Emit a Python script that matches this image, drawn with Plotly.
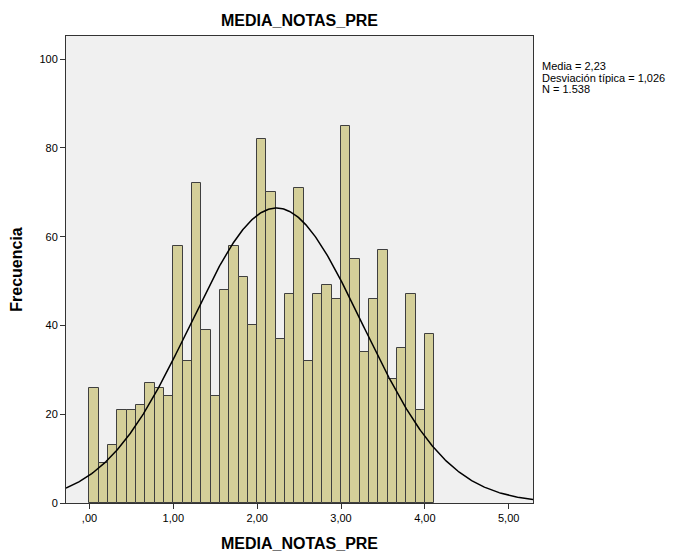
import numpy as np
import plotly.graph_objects as go

# Histogram data (bin width 1/9 starting at 0)
bin_start = 0.0
bin_width = 1.0 / 9.0
counts = [26, 9, 13, 21, 21, 22, 27, 26, 24, 58, 32, 72, 39, 24, 48, 58, 51, 40,
          82, 70, 37, 47, 71, 32, 47, 49, 46, 85, 55, 34, 46, 57, 28, 35, 47, 21, 38]
mean_val = 2.23
sd_val = 1.026
n_val = 1538
stats_lines = ["Media = 2,23", "Desviación típica = 1,026", "N = 1.538"]

x_tick_vals = [0, 1, 2, 3, 4, 5]
x_tick_text = [",00", "1,00", "2,00", "3,00", "4,00", "5,00"]
y_tick_vals = [0, 20, 40, 60, 80, 100]

OFF = 8  # page body margin
W, H = 681 - OFF, 553 - OFF
L, R, T, B = 66 - OFF, 533 - OFF, 36 - OFF, 503 - OFF

centers = [bin_start + (i + 0.5) * bin_width for i in range(len(counts))]

xr = [-0.28, 5.29]
xs = np.linspace(xr[0], xr[1], 400)
ys = n_val * bin_width / (sd_val * np.sqrt(2 * np.pi)) * np.exp(-0.5 * ((xs - mean_val) / sd_val) ** 2)

fig = go.Figure()
fig.add_trace(go.Bar(
    x=centers, y=counts, width=bin_width,
    marker=dict(color="#D4CF99", line=dict(color="#3f3f3f", width=1)),
    hoverinfo="x+y", showlegend=False,
))
fig.add_trace(go.Scatter(
    x=xs, y=ys, mode="lines", line=dict(color="black", width=1.5),
    showlegend=False, hoverinfo="skip",
))

font = "Liberation Sans, Arial, sans-serif"

def ypx(py):
    # page pixel y -> paper coordinate
    return (B - (py - OFF)) / (B - T)

def xpx(px):
    return ((px - OFF) - L) / (R - L)

annots = []
for i, line in enumerate(stats_lines):
    annots.append(dict(
        text=line, xref="paper", yref="paper", x=xpx(540), y=ypx(66 + i * 11.5),
        xanchor="left", yanchor="middle", align="left", showarrow=False,
        font=dict(size=11, family=font),
    ))

fig.update_layout(
    width=W, height=H,
    margin=dict(l=L, r=W - R, t=T, b=H - B, autoexpand=False),
    paper_bgcolor="white", plot_bgcolor="#F0F0F0",
    bargap=0,
    font=dict(family=font, size=11, color="black"),
    title=dict(text="<b>MEDIA_NOTAS_PRE</b>", x=(L + R) / 2 / W, xanchor="center",
               y=1 - (20 - OFF) / H, yanchor="middle", font=dict(size=16, family=font)),
    xaxis=dict(range=xr, tickvals=x_tick_vals, ticktext=x_tick_text,
               ticks="outside", ticklen=5, tickcolor="#333", showgrid=False, zeroline=False,
               showline=True, linecolor="#333", linewidth=1, mirror=True,
               title=dict(text="<b>MEDIA_NOTAS_PRE</b>", font=dict(size=16), standoff=14)),
    yaxis=dict(range=[0, 105.2], tickvals=y_tick_vals, ticks="outside", ticklen=5,
               tickcolor="#333", showgrid=False, zeroline=False,
               showline=True, linecolor="#333", linewidth=1, mirror=True,
               title=dict(text="<b>Frecuencia</b>", font=dict(size=16), standoff=14)),
    annotations=annots,
)

fig.write_html("out.html")
